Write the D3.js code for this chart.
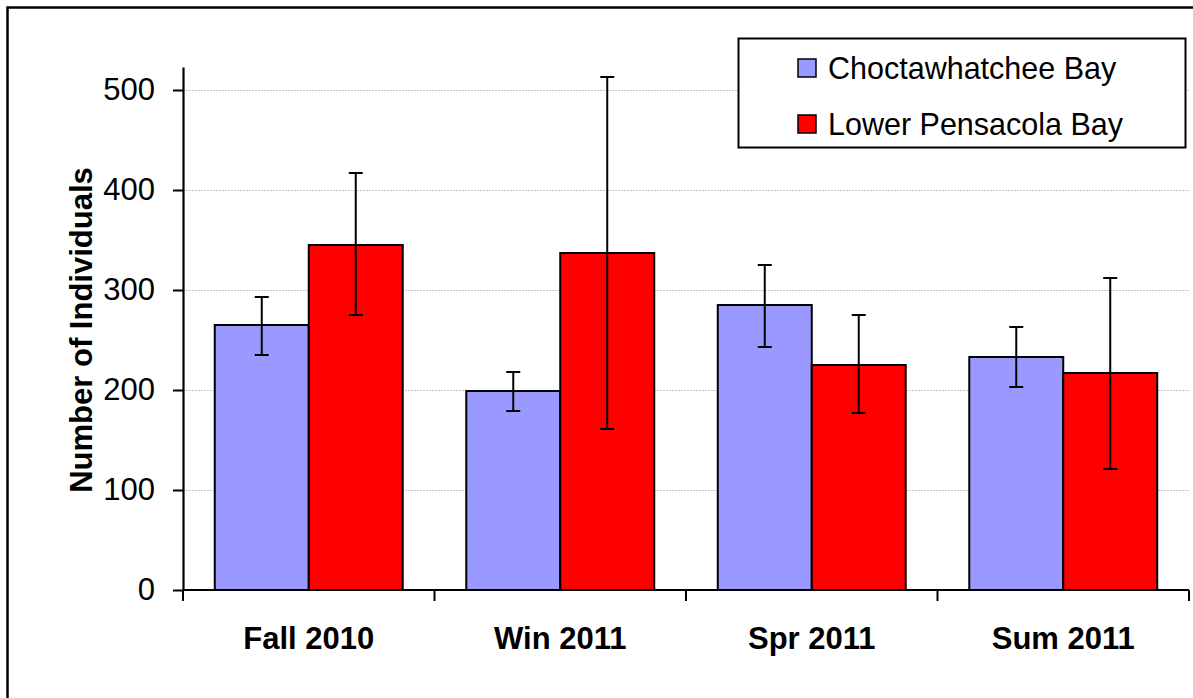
<!DOCTYPE html>
<html><head><meta charset="utf-8">
<script src="https://cdn.jsdelivr.net/npm/d3@7"></script>
<style>
html,body{margin:0;padding:0;background:#fff;}
svg{display:block;font-family:Arial,"Liberation Sans",sans-serif;}
</style></head>
<body>
<svg id="c" width="1193" height="698"></svg>
<script>
const categories = ["Fall 2010", "Win 2011", "Spr 2011", "Sum 2011"];
const seriesNames = ["Choctawhatchee Bay", "Lower Pensacola Bay"];
const seriesColors = ["#9999ff", "#ff0000"];
const choctawMean = [265, 199, 285, 233];
const choctawLow  = [235, 179, 243, 203];
const choctawHigh = [293, 218, 325, 263];
const pensaMean = [345, 337, 225, 217];
const pensaLow  = [275, 161, 177, 121];
const pensaHigh = [417, 513, 275, 312];
const yTicks = [0, 100, 200, 300, 400, 500];
const yLabel = "Number of Individuals";

(function () {
const svg = d3.select("#c");
const pLeft = 183, pRight = 1189, pTop = 67, pBottom = 590;

// outer frame (clipped on right and bottom like the reference)
svg.append("rect").attr("x", 7.5).attr("y", 7.5).attr("width", 1200).attr("height", 720)
  .attr("fill", "none").attr("stroke", "#000").attr("stroke-width", 2.5);

const x0 = d3.scaleBand().domain(categories).range([pLeft, pRight]).padding(0);
const x1 = d3.scaleBand().domain(seriesNames).range([0, x0.bandwidth()]).paddingInner(0).paddingOuter(0.338);
const y = d3.scaleLinear().domain([0, 523]).range([pBottom, pTop]);

// gridlines
svg.append("g").selectAll("line").data(yTicks.filter(d => d > 0)).join("line")
  .attr("x1", pLeft).attr("x2", pRight)
  .attr("y1", d => Math.round(y(d)) + 0.5).attr("y2", d => Math.round(y(d)) + 0.5)
  .attr("stroke", "#c4c4c4").attr("stroke-width", 1).attr("stroke-dasharray", "2,1");

const data = [
  {mean: choctawMean, low: choctawLow, high: choctawHigh},
  {mean: pensaMean, low: pensaLow, high: pensaHigh}
];

// bars
data.forEach((s, si) => {
  const g = svg.append("g");
  g.selectAll("rect").data(categories).join("rect")
    .attr("x", c => x0(c) + x1(seriesNames[si]))
    .attr("y", (c, i) => y(s.mean[i]))
    .attr("width", x1.bandwidth())
    .attr("height", (c, i) => y(0) - y(s.mean[i]))
    .attr("fill", seriesColors[si]).attr("stroke", "#000").attr("stroke-width", 2);
});

// error bars
data.forEach((s, si) => {
  const g = svg.append("g").attr("stroke", "#000").attr("stroke-width", 2);
  categories.forEach((c, i) => {
    const cx = x0(c) + x1(seriesNames[si]) + x1.bandwidth() / 2;
    g.append("line").attr("x1", cx).attr("x2", cx).attr("y1", y(s.low[i])).attr("y2", y(s.high[i]));
    g.append("line").attr("x1", cx - 7).attr("x2", cx + 7).attr("y1", y(s.low[i])).attr("y2", y(s.low[i]));
    g.append("line").attr("x1", cx - 7).attr("x2", cx + 7).attr("y1", y(s.high[i])).attr("y2", y(s.high[i]));
  });
});

// y axis
const yAxis = d3.axisLeft(y).tickValues(yTicks).tickSize(10).tickPadding(18).tickSizeOuter(0);
const ya = svg.append("g").attr("transform", `translate(${pLeft},0)`).call(yAxis);
ya.select(".domain").attr("stroke", "#000").attr("stroke-width", 2.2);
ya.selectAll(".tick line").attr("stroke", "#000").attr("stroke-width", 2);
ya.selectAll(".tick text").attr("font-size", 31).attr("fill", "#000")
  .attr("font-family", "Arial, 'Liberation Sans', sans-serif");

// x axis
const xa = svg.append("g");
xa.append("line").attr("x1", pLeft).attr("x2", pRight).attr("y1", pBottom).attr("y2", pBottom)
  .attr("stroke", "#000").attr("stroke-width", 2);
const bounds = categories.map(c => x0(c)).concat([x0(categories[categories.length - 1]) + x0.bandwidth()]);
xa.selectAll("line.t").data(bounds).join("line").attr("class", "t")
  .attr("x1", d => d).attr("x2", d => d).attr("y1", pBottom).attr("y2", pBottom + 11)
  .attr("stroke", "#000").attr("stroke-width", 2);
xa.selectAll("text").data(categories).join("text")
  .attr("x", c => x0(c) + x0.bandwidth() / 2).attr("y", 649)
  .attr("text-anchor", "middle").attr("font-size", 31).attr("font-weight", "bold")
  .text(c => c);

// y label
svg.append("text").attr("transform", "translate(92,330) rotate(-90)")
  .attr("text-anchor", "middle").attr("font-size", 31).attr("font-weight", "bold")
  .text(yLabel);

// legend
const lg = svg.append("g");
lg.append("rect").attr("x", 738.5).attr("y", 38.5).attr("width", 447).attr("height", 109)
  .attr("fill", "#fff").attr("stroke", "#000").attr("stroke-width", 2);
seriesNames.forEach((n, i) => {
  const cy = 68 + i * 56;
  lg.append("rect").attr("x", 798).attr("y", cy - 9).attr("width", 18).attr("height", 18)
    .attr("fill", seriesColors[i]).attr("stroke", "#000").attr("stroke-width", 1.5);
  lg.append("text").attr("x", 828).attr("y", cy + 11).attr("font-size", 30.5).text(n);
});
})();
</script>
</body></html>
